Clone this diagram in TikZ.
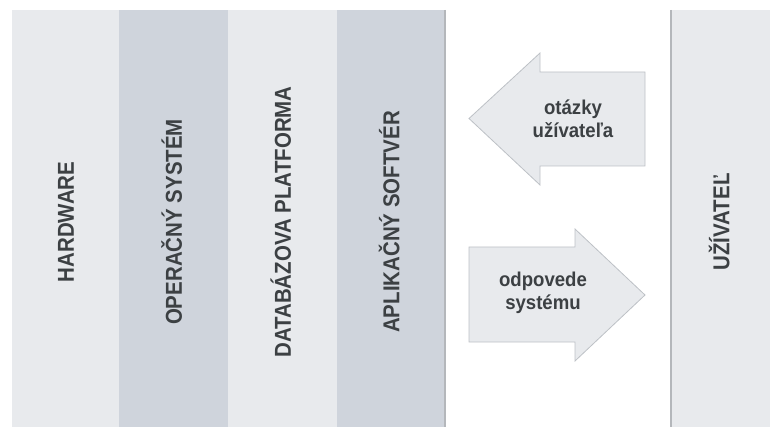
\documentclass[tikz,border=0pt]{standalone}
\usepackage{fontspec}
\setmainfont{Liberation Sans}
\definecolor{clight}{HTML}{E8EAED}
\definecolor{cdark}{HTML}{CFD4DC}
\definecolor{cborder}{HTML}{B4B7BB}
\definecolor{ctext}{HTML}{3C4043}
\definecolor{carrowline}{HTML}{BDC1C6}
\tikzset{
  colbox/.style={anchor=north west, inner sep=0pt, outer sep=0pt, draw=none, minimum height=417pt},
  collbl/.style={rotate=90, inner sep=0pt, text=ctext, font=\fontsize{23}{27}\selectfont\bfseries, text height=16.5pt, text depth=0pt},
  arrowshape/.style={fill=clight, draw=carrowline, line width=0.8pt, line join=miter},
  arrowlbl/.style={align=center, inner sep=0pt, text=ctext, font=\fontsize{20}{23}\selectfont\bfseries, xscale=0.93},
  sepline/.style={draw=cborder, line width=1.3pt}
}
\begin{document}
\begin{tikzpicture}[x=1pt,y=-1pt]
\useasboundingbox (0,0) rectangle (770,427);
% columns
\node[colbox, fill=clight, minimum width=107pt] (hw) at (12,10) {};
\node[colbox, fill=cdark, minimum width=109pt] (os) at (119,10) {};
\node[colbox, fill=clight, minimum width=109pt] (db) at (228,10) {};
\node[colbox, fill=cdark, minimum width=108pt] (app) at (337,10) {};
\node[colbox, fill=clight, minimum width=99pt] (user) at (671,10) {};
\draw[sepline] (app.north east) -- (app.south east);
\draw[sepline] (user.north west) -- (user.south west);
% column labels
\node[collbl] (hwl) at (65.5,222) {\scalebox{0.89}[1]{HARDWARE}};
\node[collbl] (osl) at (173.5,222) {\scalebox{0.89}[1]{OPERAČNÝ SYSTÉM}};
\node[collbl] (dbl) at (282.5,222) {\scalebox{0.89}[1]{DATABÁZOVA PLATFORMA}};
\node[collbl] (appl) at (391,222) {\scalebox{0.89}[1]{APLIKAČNÝ SOFTVÉR}};
\node[collbl] (userl) at (721,222) {\scalebox{0.89}[1]{UŽÍVATEĽ}};
% arrows
\draw[arrowshape] (469,118.5) -- (540,53) -- (540,72) -- (645,72) -- (645,166) -- (540,166) -- (540,185) -- cycle;
\draw[arrowshape] (469,247) -- (575,247) -- (575,229) -- (645,295) -- (575,361) -- (575,342) -- (469,342) -- cycle;
\node[arrowlbl] (q) at (573,119) {otázky\\užívateľa};
\node[arrowlbl] (a) at (543,293) {odpovede\\systému};
\end{tikzpicture}
\end{document}
